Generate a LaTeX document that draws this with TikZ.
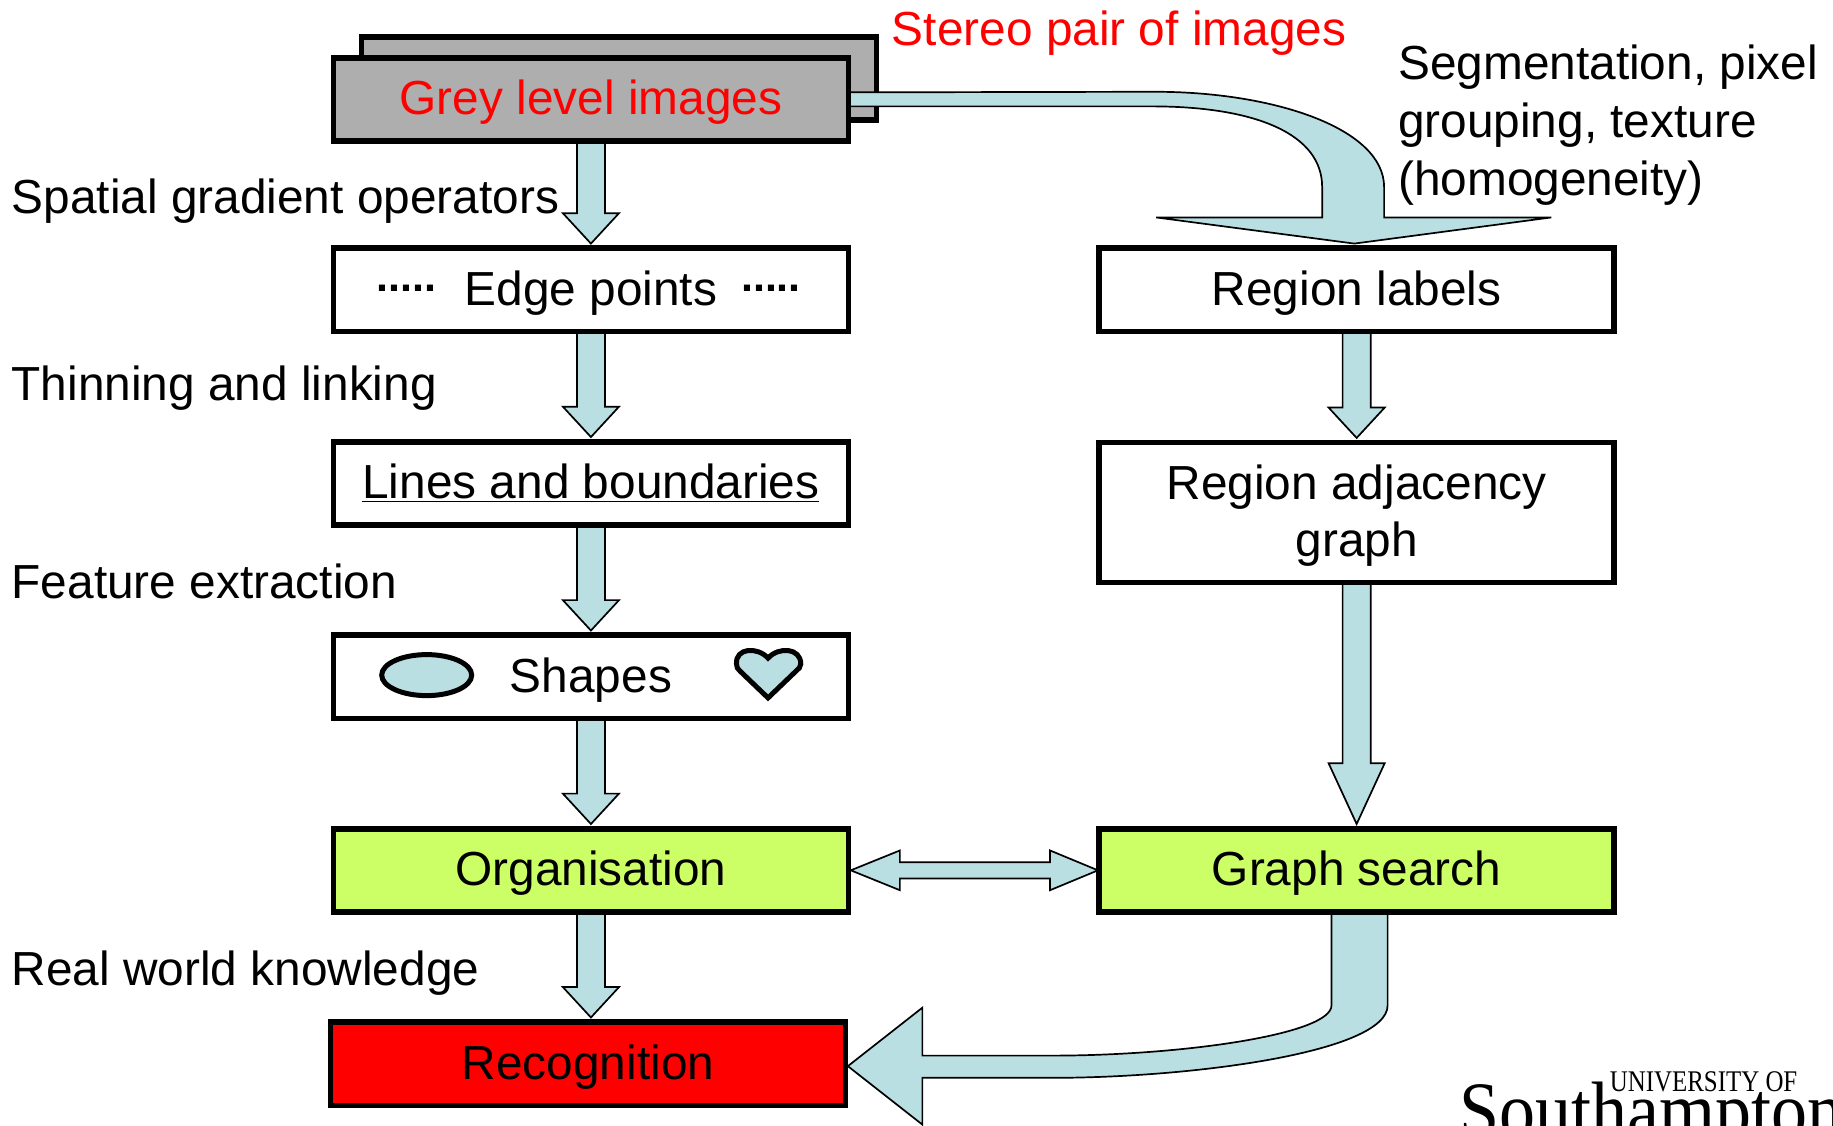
\documentclass[tikz,border=0pt]{standalone}
\usepackage{fontspec}
\setmainfont{Liberation Sans}
\newfontfamily\logosmall[FakeStretch=0.83]{Liberation Serif}
\newfontfamily\logolarge[FakeStretch=0.9]{Liberation Serif}
\usetikzlibrary{calc,shapes.geometric}
\pgfdeclarelayer{lowest}
\pgfdeclarelayer{arrows}
\pgfsetlayers{lowest,arrows,main}
\definecolor{arrowblue}{HTML}{B9DFE3}
\definecolor{boxgrey}{HTML}{AEAEAE}
\definecolor{boxgreen}{HTML}{CCFF66}
\tikzset{
  x=1.169pt,y=-1.169pt,
  every node/.style={font=\fontsize{47.8}{57.3}\selectfont},
  flowbox/.style={draw=black,line width=5.7pt,fill=white,minimum width=515pt,minimum height=83.3pt,
    inner sep=0pt,outer sep=0pt,text height=38pt,text depth=7pt},
  tallbox/.style={flowbox,text height=,text depth=,minimum height=140pt,align=center},
  sidelabel/.style={anchor=base west,inner sep=0pt,outer sep=0pt},
  dotrow/.style={anchor=base,inner sep=0pt,font=\fontsize{43}{50}\bfseries\selectfont},
  blockarrow/.style={draw=black,line width=1.7pt,fill=arrowblue,line join=miter},
  shapemark/.style={draw=black,line width=5pt,fill=arrowblue,line join=miter}
}
\newcommand\blockdown[3]{%
  \coordinate (s) at (#1.south);
  \coordinate (t) at ($(#1.south |- #2.north)+(0,-4)$);
  \coordinate (h) at ($(t)+(0,-#3)$);
  \draw[blockarrow] ($(s)+(-12,0)$) -- ($(h)+(-12,0)$) -- ($(h)+(-24,0)$) -- (t)
    -- ($(h)+(24,0)$) -- ($(h)+(12,0)$) -- ($(s)+(12,0)$) -- cycle;
}
\begin{document}
\begin{tikzpicture}
\useasboundingbox (0,0) rectangle (1568,963.2);
% boxes
\node[flowbox,fill=boxgrey,text=red] (grey) at (505.5,85) {Grey level images};
\node[flowbox] (edge) at (505.5,248) {Edge points};
\node[flowbox] (lines) at (505.5,413.5) {\underline{Lines and boundaries}};
\node[flowbox] (shapes) at (505.5,579) {Shapes};
\node[flowbox,fill=boxgreen] (org) at (505.5,744.5) {Organisation};
\node[flowbox,fill=red] (rec) at (503,910) {Recognition};
\node[flowbox] (rl) at (1160.5,248) {Region labels};
\node[tallbox] (rag) at (1160.5,438.5) {\rule{0pt}{40pt}Region adjacency\\graph};
\node[flowbox,fill=boxgreen] (gs) at (1160.5,744.5) {Graph search};
\begin{pgfonlayer}{lowest}
\node[flowbox,fill=boxgrey] (back) at (529.5,67) {};
\end{pgfonlayer}
% dots and small shapes
\node[dotrow] (dotsl) at (347.5,249.4) {.....};
\node[dotrow] (dotsr) at (659.5,249.4) {.....};
\node[shapemark,ellipse,inner sep=0pt,minimum width=90pt,minimum height=41pt] (oval) at (365,577.5) {};
\draw[shapemark] (657,563) .. controls (648,553) and (629,554) .. (630,568)
  .. controls (630,571) and (631,572) .. (633,574) -- (657,597) -- (681,574)
  .. controls (683,572) and (685,571) .. (685,568) .. controls (685,554) and (666,553) .. (657,563) -- cycle;
% arrows
\begin{pgfonlayer}{arrows}
\blockdown{grey}{edge}{26}
\blockdown{edge}{lines}{26}
\blockdown{lines}{shapes}{26}
\blockdown{shapes}{org}{26}
\blockdown{org}{rec}{26}
\blockdown{rl}{rag}{26}
\blockdown{rag}{gs}{52}
\coordinate (segtip) at ($(rl.north)+(-2,-4)$);
\draw[blockarrow] ($(grey.east)+(0,-6)$) -- (988,78.5)
  .. controls (1090,78.5) and (1184,110) .. (1184,160) -- (1184,186) -- (1327,186) -- (segtip)
  -- (989,186) -- (1131,186) -- (1131,160)
  .. controls (1131,115) and (1075,91) .. (985,91) -- ($(grey.east)+(0,6)$) -- cycle;
\coordinate (rectip) at ($(rec.east)+(2,2)$);
\draw[blockarrow] ($(gs.south)+(26.5,0)$) -- (1187,860)
  .. controls (1187,900) and (1020,922) .. (900,922) -- (789,922) -- (789,962) -- (rectip)
  -- (789,862) -- (789,903) -- (900,903)
  .. controls (1010,903) and (1139,885) .. (1139,860) -- ($(gs.south)+(-21.5,0)$) -- cycle;
\coordinate (dl) at ($(org.east)+(2,0)$);
\coordinate (dr) at ($(gs.west)+(-1,0)$);
\draw[blockarrow] (dl) -- ($(dl)+(42,-17)$) -- ($(dl)+(42,-7)$) -- ($(dr)+(-41,-7)$) -- ($(dr)+(-41,-17)$)
  -- (dr) -- ($(dr)+(-41,17)$) -- ($(dr)+(-41,7)$) -- ($(dl)+(42,7)$) -- ($(dl)+(42,17)$) -- cycle;
\end{pgfonlayer}
% labels
\node[sidelabel,text=red] (stereo) at (763,39) {Stereo pair of images};
\node[sidelabel] (seg1) at (1196,68) {Segmentation, pixel};
\node[sidelabel] (seg2) at (1196,118) {grouping, texture};
\node[sidelabel] (seg3) at (1196,167) {(homogeneity)};
\node[sidelabel] (l1) at (10,183) {Spatial gradient operators};
\node[sidelabel] (l2) at (10,343) {Thinning and linking};
\node[sidelabel] (l3) at (10,512) {Feature extraction};
\node[sidelabel] (l4) at (10,843) {Real world knowledge};
% logo
\begin{scope}
\clip (0,0) rectangle (1568,963.2);
\node[anchor=base west,inner sep=0pt,font=\logosmall\fontsize{30}{30}\selectfont] (univ) at (1377,934) {UNIVERSITY OF};
\node[anchor=base west,inner sep=0pt,font=\logolarge\fontsize{80}{80}\selectfont] (soton) at (1248,973) {Southampton};
\end{scope}
\end{tikzpicture}
\end{document}
